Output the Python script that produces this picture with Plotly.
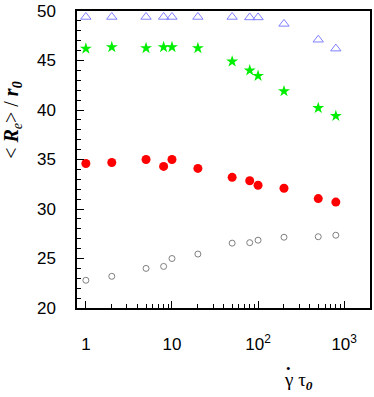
import plotly.graph_objects as go

# shear rate (gamma-dot * tau_0)
rates = [1, 2, 5, 8, 10, 20, 50, 80, 100, 200, 500, 800]

# <R_e>/r_0 for the four series
tri_vals = [49.4, 49.4, 49.4, 49.4, 49.4, 49.4, 49.4, 49.35, 49.35, 48.7, 47.1, 46.2]
star_vals = [46.2, 46.35, 46.25, 46.35, 46.35, 46.25, 44.9, 44.0, 43.45, 41.9, 40.2, 39.4]
red_vals = [34.6, 34.7, 35.0, 34.3, 35.0, 34.1, 33.2, 32.85, 32.4, 32.1, 31.05, 30.7]
open_vals = [22.8, 23.2, 24.0, 24.2, 25.0, 25.45, 26.55, 26.6, 26.85, 27.15, 27.2, 27.35]

x_tickvals = [1, 10, 100, 1000]
x_ticktext = ['1', '10', '10<sup>2</sup>', '10<sup>3</sup>']

fig = go.Figure()
fig.add_trace(go.Scatter(
    x=rates, y=tri_vals, mode='markers',
    marker=dict(symbol='triangle-up-open', size=9, color='#7f7fff', line=dict(width=1)),
))
fig.add_trace(go.Scatter(
    x=rates, y=star_vals, mode='markers',
    marker=dict(symbol='star', size=9, color='#00ee00', line=dict(width=0)),
))
fig.add_trace(go.Scatter(
    x=rates, y=red_vals, mode='markers',
    marker=dict(symbol='circle', size=9, color='#ff0000', line=dict(width=0)),
))
fig.add_trace(go.Scatter(
    x=rates, y=open_vals, mode='markers',
    marker=dict(symbol='circle-open', size=6, color='#808080', line=dict(width=1)),
))

minor_x = [m * 10 ** e for e in range(0, 4) for m in range(2, 10)]

fig.update_xaxes(
    type='log', range=[-0.103, 3.3],
    tickvals=x_tickvals, ticktext=x_ticktext,
    ticks='inside', ticklen=7, tickwidth=1.3, tickcolor='black',
    minor=dict(tickvals=minor_x, ticks='inside', ticklen=4, tickwidth=1, tickcolor='black'),
    showline=True, linecolor='black', linewidth=1.5, mirror=True,
    showgrid=False, zeroline=False,
    ticklabelstandoff=20, ticklabeloverflow='allow',
    tickfont=dict(family='Liberation Sans', size=17, color='black'),
)
fig.update_yaxes(
    range=[20, 50], dtick=5,
    ticks='inside', ticklen=7, tickwidth=1.3, tickcolor='black',
    minor=dict(dtick=1, ticks='inside', ticklen=4, tickwidth=1, tickcolor='black'),
    showline=True, linecolor='black', linewidth=1.5, mirror=True,
    showgrid=False, zeroline=False,
    ticklabelstandoff=16, ticklabeloverflow='allow',
    tickfont=dict(family='Liberation Sans', size=17, color='black'),
)

fig.add_annotation(
    text='< <b><i>R</i></b><sub><i>e</i></sub>> / <b><i>r</i></b><sub><b><i>0</i></b></sub>',
    xref='paper', yref='paper', x=-0.22, y=0.632, textangle=-90,
    xanchor='center', yanchor='middle',
    showarrow=False, font=dict(family='Liberation Serif', size=20, color='black'),
)
fig.add_annotation(
    text='γ τ<sub><b><i>0</i></b></sub>',
    xref='paper', yref='paper', x=0.698, y=-0.245, xanchor='left', yanchor='middle',
    showarrow=False, font=dict(family='Liberation Serif', size=19, color='black'),
)
fig.add_annotation(
    text='•',
    xref='paper', yref='paper', x=0.722, y=-0.205, xanchor='center', yanchor='middle',
    showarrow=False, font=dict(family='Liberation Serif', size=13, color='black'),
)

fig.update_layout(
    width=374, height=397,
    margin=dict(l=77, r=2, t=6, b=89),
    paper_bgcolor='white', plot_bgcolor='white',
    showlegend=False,
)

fig.write_html("out.html", config={'displayModeBar': False},
               post_script="document.body.style.margin='0';")
